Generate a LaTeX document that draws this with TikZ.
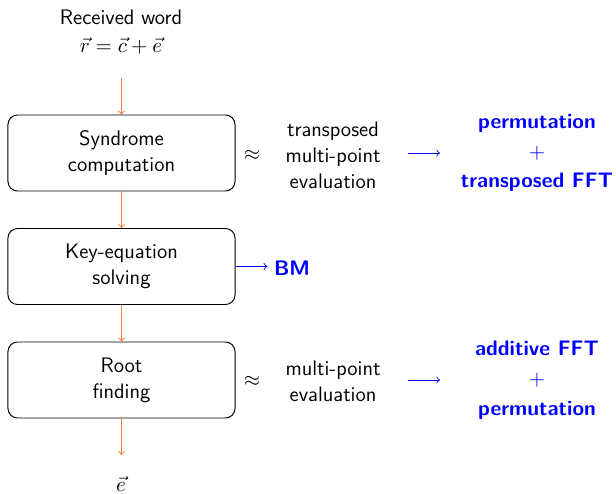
\documentclass[tikz,border=0pt]{standalone}
\usetikzlibrary{arrows}
\definecolor{flowc}{RGB}{250,125,55}
\tikzset{
  stage/.style={draw=black,line width=0.5pt,rectangle,rounded corners=5pt,minimum width=118.9pt,minimum height=39.8pt,align=center},
  flow/.style={->,draw=flowc,line width=0.5pt},
  fast/.style={->,draw=blue,line width=0.45pt},
  algo/.style={text=blue,font=\sffamily\bfseries\fontsize{11}{13.6}\selectfont,align=center},
}
\begin{document}
\begin{tikzpicture}[>=to,x=0.5236pt,y=-0.5236pt,font=\sffamily\fontsize{11}{13.6}\selectfont,line join=bevel]
    \useasboundingbox (0,0) rectangle (616,494);
    %%
    \node (recv) at (121,32) [align=center] {Received word\\[1pt] $\vec r = \vec c + \vec e$};
    \coordinate (in) at (121.5,78);
    \node (syn) at (121.5,153) [stage] {Syndrome\\computation};
    \node (key) at (121.5,266.5) [stage] {Key-equation\\solving};
    \node (root) at (121.5,380) [stage] {Root\\finding};
    \coordinate (out) at (121.5,455);
    \node (err) at (121,484) {$\vec e$};
    %
    \node (approx1) at (252,155) {$\approx$};
    \node (teval) at (333,155) [align=center] {transposed\\multi-point\\evaluation};
    \coordinate (t1) at (408,153);
    \coordinate (t2) at (440,153);
    \node (tfft) at (537,153) [algo] {permutation\\[2pt] $+$\\[2pt] transposed FFT};
    \node (bm) at (292,268) [algo] {BM};
    \node (approx3) at (252,381) {$\approx$};
    \node (meval) at (333,381) [align=center] {multi-point\\evaluation};
    \coordinate (m1) at (408,380);
    \coordinate (m2) at (440,380);
    \node (afft) at (537,380) [algo] {additive FFT\\[2pt] $+$\\[2pt] permutation};
    %
    \draw [flow] (in) -- (syn);
    \draw [flow] (syn) -- (key);
    \draw [flow] (key) -- (root);
    \draw [flow] (root) -- (out);
    \draw [fast] (key.east) -- (key.east -| bm.west);
    \draw [fast] (t1) -- (t2);
    \draw [fast] (m1) -- (m2);
    %
\end{tikzpicture}
\end{document}
